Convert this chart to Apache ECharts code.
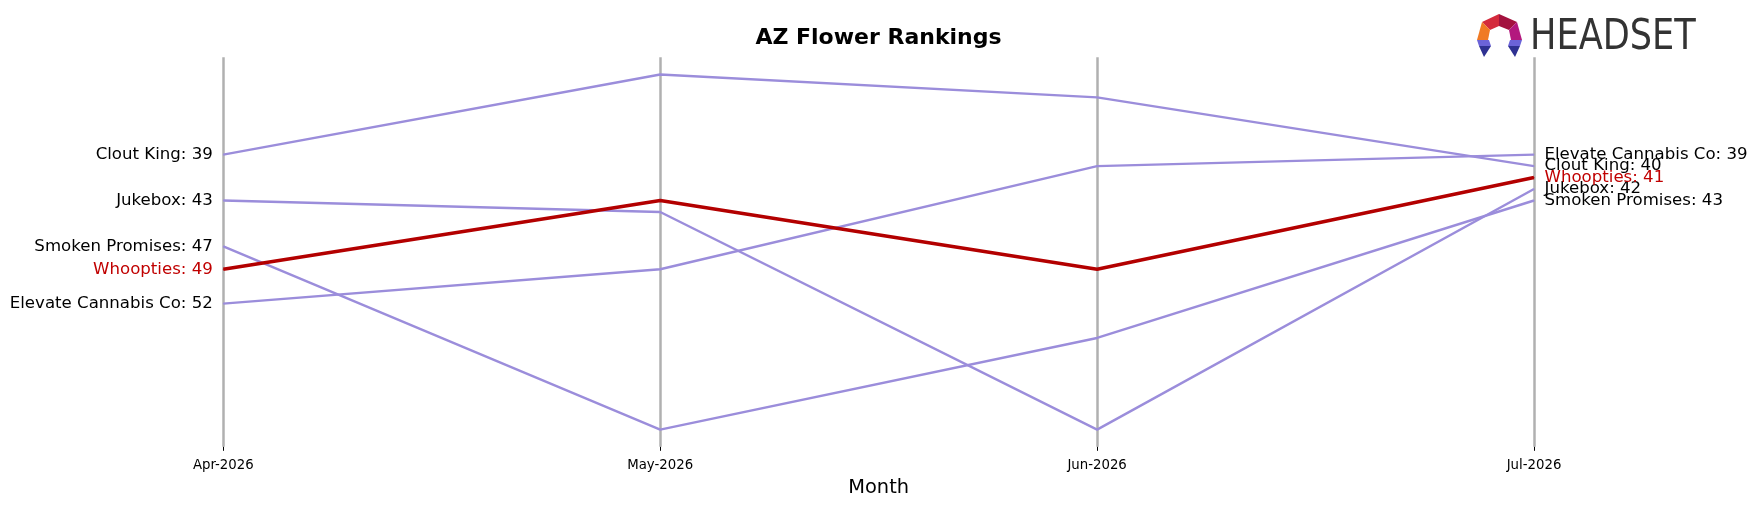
<!DOCTYPE html>
<html>
<head>
<meta charset="utf-8">
<script src="https://cdn.jsdelivr.net/npm/echarts@6/dist/echarts.min.js"></script>
<style>
html,body{margin:0;padding:0;background:#fff;}
#chart{width:1757px;height:506px;}
</style>
</head>
<body>
<div id="chart"></div>
<script>
const months = ['Apr-2026', 'May-2026', 'Jun-2026', 'Jul-2026'];
const brands = ['Clout King', 'Jukebox', 'Smoken Promises', 'Elevate Cannabis Co', 'Whoopties'];
const cloutKing = [39, 32, 34, 40];
const jukebox = [43, 44, 63, 42];
const smokenPromises = [47, 63, 55, 43];
const elevateCannabisCo = [52, 49, 40, 39];
const whoopties = [49, 43, 49, 41];
const highlight = 'Whoopties';

const seriesValues = [cloutKing, jukebox, smokenPromises, elevateCannabisCo, whoopties];
const FONT = 'DejaVu Sans, Verdana, sans-serif';

const series = brands.map((name, si) => {
  const vals = seriesValues[si];
  const isHi = name === highlight;
  const last = vals.length - 1;
  const col = isHi ? '#b30000' : '#9B8DDB';
  return {
    name: name,
    type: 'line',
    z: isHi ? 5 : 3,
    showSymbol: true,
    symbol: 'circle',
    symbolSize: 1,
    itemStyle: { color: col },
    lineStyle: { color: col, width: isHi ? 3.5 : 2.4 },
    emphasis: { disabled: true },
    labelLayout: { hideOverlap: false },
    data: vals.map((v, i) => ({
      value: v,
      label: {
        show: i === 0 || i === last,
        position: i === 0 ? 'left' : 'right',
        distance: 10,
        offset: [0, 0.5],
        formatter: name + ': ' + v,
        color: isHi ? '#c00000' : '#000000',
        fontSize: 16.6,
        fontFamily: FONT
      }
    }))
  };
});

const chart = echarts.init(document.getElementById('chart'), null, { renderer: 'canvas' });
chart.setOption({
  animation: false,
  backgroundColor: '#ffffff',
  title: {
    text: 'AZ Flower Rankings',
    left: 'center',
    top: 22,
    textStyle: { fontFamily: FONT, fontWeight: 'bold', fontSize: 22, color: '#000' }
  },
  grid: { left: 223.3, right: 223, top: 57.3, bottom: 59.2, containLabel: false },
  xAxis: {
    type: 'category',
    data: months,
    boundaryGap: false,
    axisLine: { show: false },
    axisTick: { show: true, alignWithLabel: true, length: 4, lineStyle: { color: '#000', width: 1 } },
    axisLabel: { fontSize: 13.3, color: '#000', fontFamily: FONT, margin: 12 },
    splitLine: { show: true, lineStyle: { color: '#b0b0b0', width: 2.5 } },
    name: 'Month',
    nameLocation: 'middle',
    nameGap: 32,
    nameTextStyle: { fontSize: 19.4, color: '#000', fontFamily: FONT }
  },
  yAxis: {
    type: 'value',
    inverse: true,
    min: 30.5,
    max: 64.5,
    show: false
  },
  series: series,
  graphic: [
    { type: 'polygon', shape: { points: [[1499,14],[1482,22],[1490,30],[1499,26]] }, style: { fill: '#d42a3c' } },
    { type: 'polygon', shape: { points: [[1499,14],[1517,22],[1509,30],[1499,26]] }, style: { fill: '#a3123e' } },
    { type: 'polygon', shape: { points: [[1482,22],[1477,40],[1488,40],[1490,30]] }, style: { fill: '#f07a24' } },
    { type: 'polygon', shape: { points: [[1517,22],[1522,40],[1511,40],[1509,30]] }, style: { fill: '#b3187e' } },
    { type: 'polygon', shape: { points: [[1477,40],[1489,40],[1491,46],[1479,46]] }, style: { fill: '#6b63d8' } },
    { type: 'polygon', shape: { points: [[1479,46],[1491,46],[1484,57]] }, style: { fill: '#2e3192' } },
    { type: 'polygon', shape: { points: [[1522,40],[1510,40],[1508,46],[1520,46]] }, style: { fill: '#6b63d8' } },
    { type: 'polygon', shape: { points: [[1520,46],[1508,46],[1515,57]] }, style: { fill: '#2e3192' } },
    {
      type: 'text',
      x: 1530,
      y: 38,
      scaleX: 0.93,
      style: {
        text: 'HEADSET',
        fill: '#333333',
        fontFamily: 'Liberation Sans Narrow, DejaVu Sans Condensed, sans-serif',
        fontSize: 42,
        verticalAlign: 'middle',
        align: 'left'
      }
    }
  ]
});
</script>
</body>
</html>
